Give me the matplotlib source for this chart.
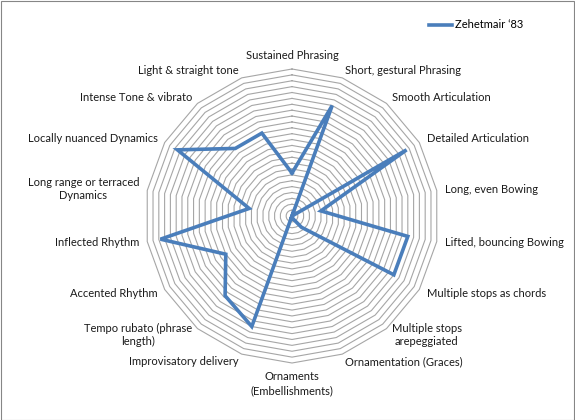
import numpy as np
import matplotlib
matplotlib.use("Agg")
import matplotlib.pyplot as plt
from matplotlib.patches import Rectangle

plt.rcParams['font.family'] = ['Lato', 'DejaVu Sans']

categories = [
    "Sustained Phrasing", "Short, gestural Phrasing", "Smooth Articulation",
    "Detailed Articulation", "Long, even Bowing", "Lifted, bouncing Bowing",
    "Multiple stops as chords", "Multiple stops\narepeggiated", "Ornamentation (Graces)",
    "Ornaments\n(Embellishments)", "Improvisatory delivery", "Tempo rubato (phrase\nlength)",
    "Accented Rhythm", "Inflected Rhythm", "Long range or terraced\nDynamics",
    "Locally nuanced Dynamics", "Intense Tone & vibrato", "Light & straight tone",
]
zehetmair_83 = [7.3, 20, 0, 22.5, 5, 20, 20, 2.5, 0.5, 0, 20, 17.7, 13, 22.7, 7.4, 22.5, 15, 15]
series_name = "Zehetmair \u201883"
ring_levels = list(range(1, 26))
r_max = 25

W, H = 575, 420
fig = plt.figure(figsize=(W / 100, H / 100), dpi=100)
cx, cy, R = 292, 216, 147
ax = fig.add_axes([(cx - R) / W, (H - cy - R) / H, 2 * R / W, 2 * R / H], projection='polar')
ax.set_theta_zero_location('N')
ax.set_theta_direction(-1)
ax.set_ylim(0, r_max)
ax.grid(False)
ax.set_xticks([])
ax.set_yticks([])
ax.spines['polar'].set_visible(False)
ax.patch.set_alpha(0)

n = len(categories)
theta = np.arange(n) * 2 * np.pi / n
theta_c = np.append(theta, theta[0])

for lvl in ring_levels:
    ax.plot(theta_c, [lvl] * (n + 1), color='#A6A6A6', lw=0.8, zorder=1, clip_on=False)

vals = np.append(zehetmair_83, zehetmair_83[0])
line, = ax.plot(theta_c, vals, color='#4A7EBB', lw=2.6, zorder=3, solid_joinstyle='miter', clip_on=False)

for t, lab in zip(theta, categories):
    s = np.sin(t)
    c = np.cos(t)
    if abs(s) < 0.1:
        ha = 'center'
    elif s > 0:
        ha = 'left'
    else:
        ha = 'right'
    if c > 0.95:
        va = 'bottom'
    elif c < -0.95:
        va = 'top'
    else:
        va = 'center'
    off = 6
    ax.annotate(lab, xy=(t, r_max), xytext=(s * off, c * off), textcoords='offset points',
                ha=ha, va=va, multialignment='center', fontsize=8, color='#1a1a1a',
                annotation_clip=False, linespacing=1.3)

fig.legend([line], [series_name], loc='center left', bbox_to_anchor=(429 / W, 1 - 25 / H),
           frameon=False, fontsize=8, handlelength=2.1, handletextpad=0.2, borderpad=0,
           borderaxespad=0)

fig.patches.append(Rectangle((0.5 / W, 0.5 / H), 1 - 1.5 / W, 1 - 1.5 / H, transform=fig.transFigure,
                             fill=False, edgecolor='#868686', lw=0.8))

fig.savefig('out.png', dpi=100)
